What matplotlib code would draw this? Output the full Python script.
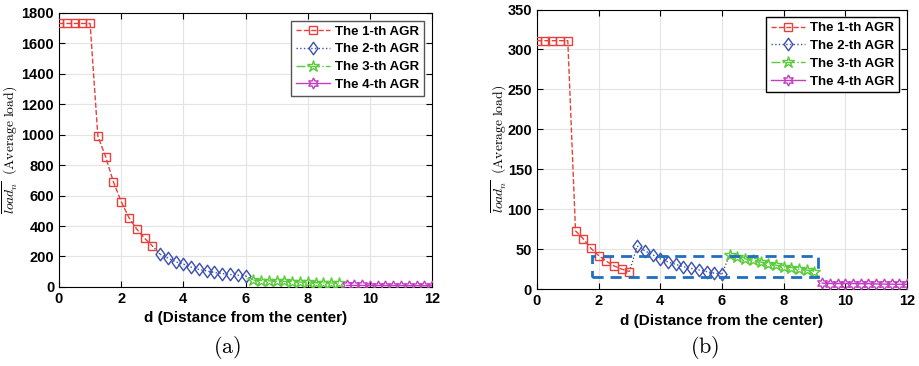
import matplotlib
matplotlib.use("Agg")
import matplotlib.pyplot as plt
from matplotlib.patches import Rectangle
from matplotlib.path import Path
import numpy as np

plt.rcParams['font.family'] = ['Liberation Sans', 'DejaVu Sans']
plt.rcParams['mathtext.fontset'] = 'cm'

# distances for each AGR group
d1 = [0, 0.25, 0.5, 0.75, 1.0, 1.25, 1.5, 1.75, 2.0, 2.25, 2.5, 2.75, 3.0]
d2 = [3.25, 3.5, 3.75, 4.0, 4.25, 4.5, 4.75, 5.0, 5.25, 5.5, 5.75, 6.0]
d3 = [6.25, 6.5, 6.75, 7.0, 7.25, 7.5, 7.75, 8.0, 8.25, 8.5, 8.75, 9.0]
d4 = [9.25, 9.5, 9.75, 10.0, 10.25, 10.5, 10.75, 11.0, 11.25, 11.5, 11.75, 12.0]

# (a) average load
a1 = [1730, 1730, 1730, 1730, 1730, 990, 855, 690, 560, 455, 380, 320, 270]
a2 = [215, 190, 165, 150, 130, 115, 105, 95, 88, 82, 77, 72]
a3 = [45, 42, 40, 38, 36, 34, 32, 30, 28, 27, 26, 25]
a4 = [10, 10, 10, 9, 9, 9, 9, 9, 8, 8, 8, 8]

# (b) average load
b1 = [311, 311, 311, 311, 311, 73, 63, 51, 42, 35, 29, 25, 22]
b2 = [54, 48, 43, 38, 34, 31, 28, 26, 24, 22, 20, 19]
b3 = [43, 40, 38, 36, 34, 32, 30, 28, 27, 25, 24, 22]
b4 = [7.5, 7, 7, 7, 7, 6.8, 6.8, 6.5, 6.3, 6.2, 6.1, 6]

labels = ['The 1-th AGR', 'The 2-th AGR', 'The 3-th AGR', 'The 4-th AGR']
colors = ['#e8403a', '#3a50b0', '#5acb3a', '#c23fc2']
styles = ['--', ':', '-.', '-']
# matlab-like wide diamond
diamond = Path([(0, 1), (0.72, 0), (0, -1), (-0.72, 0), (0, 1)],
               [Path.MOVETO, Path.LINETO, Path.LINETO, Path.LINETO, Path.CLOSEPOLY])
markers = ['s', diamond, '*', (6, 1, 0)]
msizes = [6, 9, 9, 8]

fig = plt.figure(figsize=(9.19, 3.66), dpi=100)
ax1 = fig.add_axes([0.0642, 0.216, 0.406, 0.749])
ax2 = fig.add_axes([0.5843, 0.210, 0.4026, 0.764])


def draw(ax, ys, ylim, yticks, legend_edge, labx):
    xs = [d1, d2, d3, d4]
    # dotted connectors between group ends
    for i in range(2):
        ax.plot([xs[i][-1], xs[i + 1][0]], [ys[i][-1], ys[i + 1][0]],
                ':', color='#444444', lw=0.9, zorder=2)
    for x, y, lab, c, ls, m, ms in zip(xs, ys, labels, colors, styles, markers, msizes):
        ax.plot(x, y, ls, color=c, marker=m, ms=ms, mfc='none', mec=c,
                mew=1.0, lw=1.0, label=lab, zorder=3)
    ax.set_xlim(0, 12)
    ax.set_ylim(*ylim)
    ax.set_xticks(range(0, 13, 2))
    ax.set_yticks(yticks)
    ax.grid(True, color='#e3e3e3', lw=0.8)
    ax.set_axisbelow(True)
    ax.tick_params(direction='in', top=True, right=True, length=4, width=0.8,
                   labelsize=10.5)
    for lab in ax.get_xticklabels() + ax.get_yticklabels():
        lab.set_fontweight('bold')
    for s in ax.spines.values():
        s.set_linewidth(0.8)
    ax.set_xlabel('d (Distance from the center)', fontsize=11, fontweight='bold',
                  labelpad=4)
    ax.set_ylabel(r'$\overline{load_n}\ \ \mathrm{(Average\ load)}$', fontsize=9.8)
    ax.yaxis.set_label_coords(labx, 0.5)
    leg = ax.legend(loc='upper right', prop={'weight': 'bold', 'size': 9.5},
                    fancybox=False, framealpha=1, handlelength=2.6,
                    borderpad=0.35, labelspacing=0.42, handletextpad=0.4,
                    borderaxespad=0.6)
    leg.get_frame().set_edgecolor(legend_edge)
    leg.get_frame().set_linewidth(1.0)


draw(ax1, [a1, a2, a3, a4], (0, 1800), range(0, 1801, 200), '#555555', -0.105)
draw(ax2, [b1, b2, b3, b4], (0, 350), range(0, 351, 50), 'black', -0.075)

# highlight box in (b)
ax2.add_patch(Rectangle((1.8, 15), 7.3, 27, fill=False, ls=(0, (4, 2.5)),
                        lw=2.0, ec='#1f6fc0', zorder=4))

fig.text(0.247, 0.035, r'$\mathrm{(a)}$', fontsize=16, ha='center')
fig.text(0.767, 0.035, r'$\mathrm{(b)}$', fontsize=16, ha='center')

fig.savefig('out.png', dpi=100)
